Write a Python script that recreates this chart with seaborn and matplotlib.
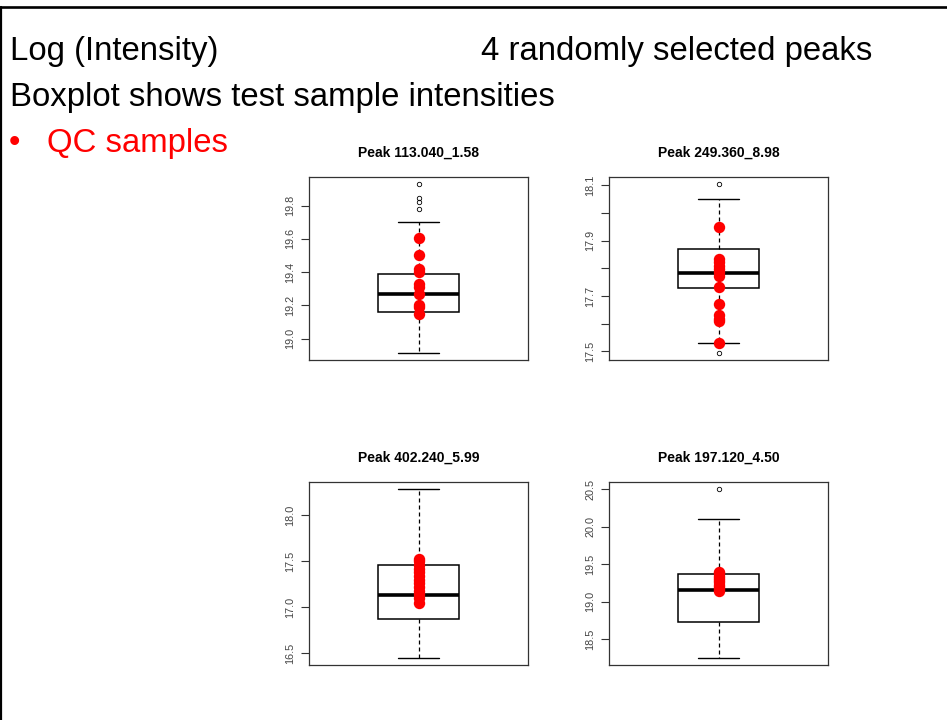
import numpy as np
import pandas as pd
import matplotlib
matplotlib.use("Agg")
import matplotlib.pyplot as plt
from matplotlib.lines import Line2D
import seaborn as sns

# ---------------- data ----------------
titles = ["Peak 113.040_1.58", "Peak 249.360_8.98",
          "Peak 402.240_5.99", "Peak 197.120_4.50"]

# test-sample intensities (box summaries: whiskers, quartiles, median, outliers)
test_113 = [18.912, 19.02, 19.08, 19.12, 19.15, 19.162, 19.19, 19.21, 19.23, 19.25,
            19.27, 19.30, 19.33, 19.35, 19.37, 19.386, 19.704, 19.778, 19.82, 19.848, 19.932]
test_249 = [17.493, 17.529, 17.62, 17.728, 17.75, 17.77, 17.784, 17.81, 17.84,
            17.871, 17.95, 18.052, 18.106]
test_402 = [16.442, 16.70, 16.871, 17.00, 17.136, 17.30, 17.459, 17.80, 18.291]
test_197 = [18.248, 18.50, 18.65, 18.730, 18.90, 19.05, 19.159, 19.25, 19.32,
            19.372, 19.70, 20.111, 20.509]

# QC-sample intensities (red points)
qc_113 = [19.606, 19.502, 19.42, 19.40, 19.33, 19.31, 19.27, 19.20, 19.19, 19.15]
qc_249 = [17.949, 17.834, 17.822, 17.81, 17.798, 17.786, 17.774, 17.734, 17.671,
          17.63, 17.617, 17.611, 17.529]
qc_402 = [17.05, 17.10, 17.14, 17.18, 17.22, 17.26, 17.30, 17.34, 17.38, 17.42,
          17.46, 17.50, 17.53]
qc_197 = [19.14, 19.17, 19.20, 19.23, 19.26, 19.29, 19.32, 19.35, 19.38, 19.40]

tests = [test_113, test_249, test_402, test_197]
qcs = [qc_113, qc_249, qc_402, qc_197]

ytick_start = [19.0, 17.5, 16.5, 18.5]
ytick_step = [0.2, 0.1, 0.5, 0.5]
ylabel_every = [1, 2, 1, 1]

# ---------------- figure ----------------
sns.set_style("white")
plt.rcParams["font.family"] = ["Liberation Sans", "DejaVu Sans"]
plt.rcParams["text.color"] = "black"
plt.rcParams["axes.titlecolor"] = "black"

W, H = 947, 720
fig = plt.figure(figsize=(W / 100, H / 100), dpi=100)

# slide frame (top and left edges)
fig.add_artist(Line2D([0, 1], [1 - 6.8 / H, 1 - 6.8 / H], transform=fig.transFigure,
                      color="black", lw=1.9))
fig.add_artist(Line2D([1.0 / W, 1.0 / W], [0, 1 - 6.8 / H], transform=fig.transFigure,
                      color="black", lw=1.6))

# slide text
big = 23.7
fig.text(10 / W, 1 - 60 / H, "Log (Intensity)", fontsize=big, va="baseline", ha="left")
fig.text(481 / W, 1 - 60 / H, "4 randomly selected peaks", fontsize=big, va="baseline", ha="left")
fig.text(10 / W, 1 - 106 / H, "Boxplot shows test sample intensities", fontsize=big,
         va="baseline", ha="left")
fig.text(9 / W, 1 - 152 / H, "\u2022", fontsize=big, va="baseline", ha="left", color="#FF0000")
fig.text(47 / W, 1 - 152 / H, "QC samples", fontsize=big, va="baseline", ha="left",
         color="#FF0000")

# panel boxes in pixels: (left, top, right, bottom)
boxes = [(309, 177, 528, 360), (609, 177, 828, 360),
         (309, 482, 528, 665), (609, 482, 828, 665)]

frame_col = "#333333"
for i in range(4):
    l, t, r, b = boxes[i]
    ax = fig.add_axes([l / W, 1 - b / H, (r - l) / W, (b - t) / H])
    df_test = pd.DataFrame({"value": tests[i]})
    df_qc = pd.DataFrame({"value": qcs[i]})

    sns.boxplot(data=df_test, y="value", ax=ax, width=0.4, color="white",
                linecolor="black", linewidth=1.1, fliersize=3.2, saturation=1,
                whiskerprops={"linestyle": (0, (3.2, 2.4)), "linewidth": 0.9},
                capprops={"linewidth": 1.0},
                medianprops={"linewidth": 2.6, "color": "black"},
                flierprops={"marker": "o", "markerfacecolor": "none",
                            "markeredgecolor": "black", "markeredgewidth": 0.6},
                capwidths=0.2)
    sns.stripplot(data=df_qc, y="value", ax=ax, jitter=False, color="#FF0000",
                  size=8.2, linewidth=0, zorder=5)

    allv = np.array(tests[i] + qcs[i])
    lo, hi = allv.min(), allv.max()
    pad = 0.04 * (hi - lo)
    ax.set_ylim(lo - pad, hi + pad)
    ax.set_xlim(-0.54, 0.54)

    ticks = np.arange(ytick_start[i], hi + pad + 1e-9, ytick_step[i])
    ax.set_yticks(ticks)
    ax.set_yticklabels([f"{v:.1f}" if k % ylabel_every[i] == 0 else ""
                        for k, v in enumerate(ticks)])
    ax.set_xticks([])
    ax.set_xlabel("")
    ax.set_ylabel("")
    ax.tick_params(axis="y", left=True, length=6, width=0.8, color=frame_col,
                   direction="out", pad=4, labelsize=7.8, labelcolor="#444444",
                   labelrotation=90)
    for lab in ax.get_yticklabels():
        lab.set_va("center")
    for s in ax.spines.values():
        s.set_visible(True)
        s.set_color(frame_col)
        s.set_linewidth(0.9)
    ax.set_title(titles[i], fontsize=10, fontweight="bold", pad=14.5, color="black")

fig.savefig("out.png", dpi=100, facecolor="white")
